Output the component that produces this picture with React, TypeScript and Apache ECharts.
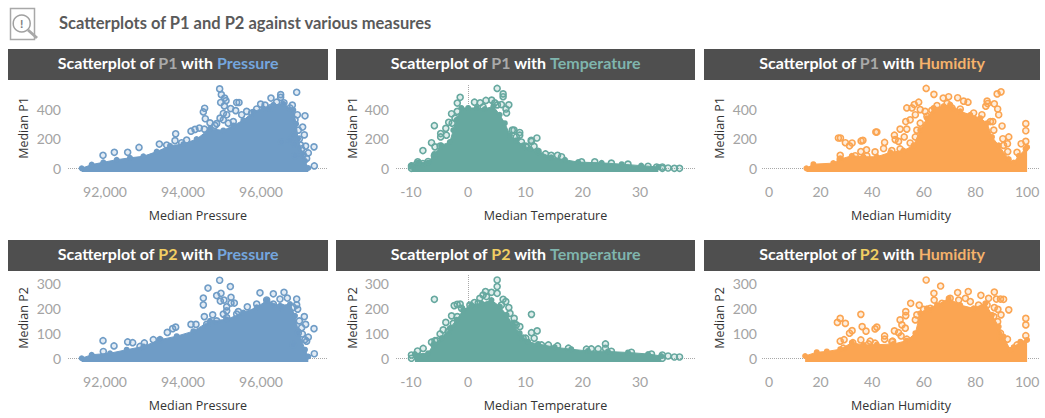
import React, { useEffect, useRef } from "react";
import * as echarts from "echarts";

type Pt = [number, number];

// Ticks
const pressureTicks = [92000, 94000, 96000];
const temperatureTicks = [-10, 0, 10, 20, 30];
const humidityTicks = [0, 20, 40, 60, 80, 100];
const p1Ticks = [0, 200, 400];
const p2Ticks = [0, 100, 200, 300];

// Upper edge of the solid mass of points
const p1PressureEdge: Pt[] = [[91402,0],[91658,25],[91957,41],[92299,58],[92641,71],[92983,81],[93325,113],[93667,152],[94009,164],[94350,198],[94692,268],[95034,256],[95290,290],[95547,325],[95803,383],[96060,406],[96316,429],[96573,436],[96829,394],[96900,300],[96950,200],[97060,100],[97128,50],[97213,2]];
const p1TemperatureEdge: Pt[] = [[-9.9,20],[-8.7,39],[-7,39],[-5.9,97],[-4.7,155],[-3.2,178],[-2.6,258],[-2,328],[-1.2,408],[0,408],[1.5,408],[2.9,401],[4.4,420],[5.5,362],[6.4,305],[7.3,224],[8.4,189],[9.6,155],[10.8,131],[12.2,115],[14.5,74],[16.9,58],[19.2,42],[23.3,37],[26.8,28],[30.2,18],[33.2,9]];
const p1HumidityEdge: Pt[] = [[14.5,0],[17.2,28],[24.9,35],[27.6,62],[32.1,85],[36.6,78],[41.8,78],[47,108],[52.1,120],[56,155],[58.6,258],[61.2,339],[63.8,408],[67.7,420],[70.2,431],[74.1,385],[78,362],[81.9,339],[84.5,305],[86.4,212],[89,155],[92.9,62],[94.8,39],[96.8,85],[99.4,131],[100,143]];
const p2PressureEdge: Pt[] = [[91402,0],[91658,14],[92128,20],[92555,34],[92983,47],[93410,74],[93838,88],[94265,108],[94692,149],[95120,155],[95547,182],[95889,203],[96146,230],[96487,209],[96744,216],[96872,169],[96957,108],[97128,34],[97213,7]];
const p2TemperatureEdge: Pt[] = [[-9.3,17],[-7,20],[-6.1,53],[-4.65,80],[-3.2,120],[-2,153],[-0.87,193],[0.58,212],[2.33,219],[4.07,232],[5.53,206],[6.7,173],[7.85,133],[9,100],[10.47,66],[12.2,57],[15.1,44],[18,36],[20.9,29],[24.4,27],[27.9,23],[31.4,17],[33.7,9]];
const p2HumidityEdge: Pt[] = [[14,9],[18.5,24],[22.4,27],[27.6,36],[32.1,62],[36.6,53],[41.8,54],[48.3,57],[53.4,70],[56.7,100],[58.6,179],[61.2,199],[65.1,212],[69.6,239],[74.1,212],[79.3,199],[83.8,219],[86.4,173],[89,126],[90.9,86],[93.5,33],[94.8,44],[97.4,66],[100,73]];

// Separately visible points
const p1PressurePoints: Pt[] = [[94940,537],[94983,498],[95068,475],[95103,457],[94966,445],[95060,422],[95376,445],[95436,445],[94555,406],[94521,381],[94572,335],[95222,404],[95350,390],[95034,371],[95632,385],[95991,434],[96103,427],[96256,475],[96504,498],[96504,480],[96915,514],[96803,427],[97128,355],[97068,279],[97111,226],[96983,198],[97017,157],[97145,150],[97359,145],[97213,104],[97085,90],[97170,67],[97367,16],[96863,164],[93812,233],[93795,187],[92872,141],[91949,88],[92239,108],[92581,108],[93393,164],[93581,157],[94205,251],[94308,263],[94419,272],[94547,265],[93966,173],[94094,191],[94692,307],[94863,302],[94820,290],[94950,339],[95120,362],[95034,328],[95162,305],[95290,316],[95504,362],[95760,374],[95889,401],[96230,408],[96401,447],[96590,443],[96743,408],[96932,362],[96872,328],[96957,258],[96829,224],[96743,189],[96530,178],[97043,131],[96872,85]];
const p1TemperaturePoints: Pt[] = [[5.06,540],[6.1,503],[6.1,484],[-1.4,480],[-1.9,441],[-5.9,288],[-7.9,120],[-4.8,235],[-4.8,212],[-6.4,173],[-3.9,270],[-3.4,311],[-2.9,369],[-1.9,385],[1.1,447],[2.1,443],[3.1,459],[4.1,461],[7.1,429],[6.6,401],[5.1,429],[8,258],[9,242],[9,224],[12,205],[11.05,182],[11.5,148],[10.06,150],[-5.8,145],[-4.9,150],[-9.9,16],[-9.9,0],[-8.8,44],[-7.9,32],[-5.9,85],[13.5,97],[14.5,88],[15.6,88],[34.9,2],[36,0],[36.9,0],[33.9,9],[33.9,0],[-2.3,339],[-2.8,305],[-3.8,224],[4.65,443],[2.6,415],[5.8,431],[6.7,374],[7.7,258],[8.4,212],[9.3,178],[10.2,143],[11,189],[12.2,115],[16.3,78],[19.8,44],[22.1,44],[25,35],[27.9,28],[31.4,14],[32.9,9],[-9,28],[-7,46]];
const p1HumidityPoints: Pt[] = [[60.9,540],[63.9,500],[67.5,475],[69.6,484],[73.1,477],[75.4,454],[77.1,447],[88.4,503],[89.9,517],[87.3,436],[84.5,454],[58,447],[56.3,431],[53.4,408],[55.4,408],[58.6,397],[60.5,385],[88.6,401],[89,362],[86.7,316],[90.3,286],[92.9,212],[92.4,166],[97.7,166],[99.5,302],[99.5,254],[99.5,182],[26.9,205],[27.7,205],[29.6,173],[31.2,152],[32.2,171],[35.7,185],[36.4,189],[41.4,245],[41.8,245],[27.6,88],[35.6,113],[37.8,125],[41.1,111],[44.8,175],[44.4,134],[48.6,224],[48.9,194],[50.8,265],[53.4,265],[50.2,182],[52.4,212],[53,316],[54.7,328],[56.7,362],[54.7,171],[47.6,120],[84,420],[90.9,155],[92.5,113],[90.6,200],[61.2,351],[63.1,392],[65.1,424],[69,438],[70.9,408],[74.1,401],[79.3,374],[82.5,362],[85.8,316],[87.1,258],[84.7,438],[57.3,258],[58.6,305],[56.7,212],[27.6,62],[33.4,85],[37.9,85],[50.8,131],[96.1,108]];
const p2PressurePoints: Pt[] = [[94940,311],[94641,280],[95214,286],[94974,259],[94863,250],[94521,240],[94521,213],[95231,243],[94957,228],[95051,232],[95231,220],[95316,220],[95120,205],[95120,189],[95974,261],[96316,257],[96590,263],[96487,236],[96675,240],[96915,236],[96915,213],[96940,196],[97111,166],[97145,135],[97359,118],[97060,97],[97213,84],[97170,68],[97367,18],[91949,70],[92231,49],[92581,65],[92709,62],[93009,61],[93598,103],[93812,124],[93735,118],[94205,135],[94333,135],[94547,166],[94761,173],[95034,176],[95649,205],[95419,186],[94607,135],[94863,149],[95120,162],[95376,176],[95889,216],[96146,232],[96316,216],[96530,203],[96829,203],[96983,149],[97043,122],[96957,101],[97128,74],[96829,54],[93410,74],[93239,74],[92897,47],[91957,27]];
const p2TemperaturePoints: Pt[] = [[5.06,312],[5.06,286],[5.06,259],[-5.9,235],[4.07,263],[3.03,266],[2.6,252],[2.04,239],[-2.44,210],[-1.92,215],[-1.4,216],[1.1,222],[6.1,235],[6.57,226],[7.1,202],[11.05,175],[-2.9,169],[-1.9,166],[-3.9,143],[-4.9,97],[-4.36,113],[-6.4,64],[-5.8,70],[-7.85,39],[-8.84,29],[-9.9,13],[-9.9,0],[8.03,159],[8.03,139],[9.02,126],[12.04,109],[11.05,102],[11.52,80],[10.06,80],[23.97,57],[23.97,39],[15.6,49],[20.65,36],[21.5,37],[22.7,37],[34.9,9],[36,5],[36.9,5],[33.9,13],[33.9,0],[-1.16,199],[0.3,212],[1.75,219],[3.2,246],[5.8,212],[7.3,179],[8.4,133],[9.6,80],[12.8,53],[14,53],[17.5,40],[25,28],[28.5,24],[32,17],[-5.9,53],[-5.5,70],[-3.5,106],[-2.6,139]];
const p2HumidityPoints: Pt[] = [[60.9,312],[66.5,288],[63.9,259],[73.1,262],[77.2,266],[82.1,251],[87.3,264],[85.1,239],[88.1,236],[89.7,236],[90.9,235],[87.3,202],[88.7,195],[92.9,193],[89.9,173],[99.5,159],[99.5,133],[99.5,90],[92.4,76],[89.7,80],[27.6,159],[26.5,143],[29.6,139],[35.6,175],[31.2,100],[32.2,110],[36.1,126],[37.6,108],[41.1,117],[41.8,124],[27.6,68],[29.1,74],[35.6,73],[39.2,68],[44.8,89],[44.8,76],[47.9,68],[48.6,109],[50.2,102],[51.2,89],[50.8,153],[51.5,133],[52.8,120],[53,186],[53,170],[54.9,219],[58.2,212],[64,232],[57.3,173],[56.7,153],[59.9,195],[62.5,199],[67,219],[70.2,239],[73.5,232],[76.1,239],[78,226],[81.2,212],[84.5,212],[87.1,166],[88.6,146],[89.7,100],[96.1,53],[28.8,40],[32.5,62],[38.6,57],[41.1,60],[47.6,66],[53.4,76]];

const measures = ["Pressure", "Temperature", "Humidity"];
const pollutants = ["P1", "P2"];

const BLUE = "#6f9cc6";
const TEAL = "#66a89f";
const ORANGE = "#fba552";
const TICK = "Lato, sans-serif";
const AXIS = "'Open Sans', sans-serif";
const TITLE = "Lato, sans-serif";

const columns = [
  { left: 68, right: 328, head: 8, headRight: 328, min: 91051, max: 97718, ticks: pressureTicks, color: BLUE, word: "#74a6de", nameGap: 38, labelMargin: 7, zeroX: false },
  { left: 396, right: 695, head: 336, headRight: 695, min: -12.6, max: 39.6, ticks: temperatureTicks, color: TEAL, word: "#7fb5ad", nameGap: 37, labelMargin: 7, zeroX: true },
  { left: 762, right: 1040, head: 704, headRight: 1040, min: -2.7, max: 105, ticks: humidityTicks, color: ORANGE, word: "#f5b26b", nameGap: 36, labelMargin: 5, zeroX: false },
];
const rows = [
  { top: 84, bottom: 172, headTop: 49, min: -25, max: 570, ticks: p1Ticks, code: "#a9a9a9" },
  { top: 274, bottom: 362, headTop: 240, min: -15, max: 336, ticks: p2Ticks, code: "#f1ce63" },
];
const edges = [[p1PressureEdge, p1TemperatureEdge, p1HumidityEdge], [p2PressureEdge, p2TemperatureEdge, p2HumidityEdge]];
const points = [[p1PressurePoints, p1TemperaturePoints, p1HumidityPoints], [p2PressurePoints, p2TemperaturePoints, p2HumidityPoints]];

const ringFill = (hex: string) => hex + "33";

function buildOption() {
  const grid: any[] = [], xAxis: any[] = [], yAxis: any[] = [], series: any[] = [], title: any[] = [], graphic: any[] = [];
  title.push({ text: "Scatterplots of P1 and P2 against various measures", left: 59, top: 14, padding: 0, textStyle: { fontFamily: TITLE, fontWeight: 700, fontSize: 16.5, color: "#5a5a5a" } });
  graphic.push(
    { type: "rect", shape: { x: 10.5, y: 8.5, width: 24, height: 31 }, style: { fill: "none", stroke: "#a8a8a8", lineWidth: 1.5 } },
    { type: "circle", shape: { cx: 21.7, cy: 23.5, r: 8.5 }, style: { fill: "#fff", stroke: "#a0a0a0", lineWidth: 1.5 } },
    { type: "line", shape: { x1: 28, y1: 30, x2: 37, y2: 38 }, style: { stroke: "#a8a8a8", lineWidth: 3 } },
    { type: "text", style: { text: "!", x: 21.7, y: 23.5, align: "center", verticalAlign: "middle", fill: "#808080", font: "700 12px Lato" } },
  );
  rows.forEach((row, r) => {
    columns.forEach((col, c) => {
      const i = grid.length;
      grid.push({ left: col.left, top: row.top, width: col.right - col.left, height: row.bottom - row.top });
      xAxis.push({
        gridIndex: i, type: "value", min: col.min, max: col.max, name: "Median " + measures[c], nameLocation: "middle", nameGap: 37,
        nameTextStyle: { fontFamily: AXIS, fontSize: 12.5, fontWeight: 400, color: "#333" },
        axisLine: { show: false }, axisTick: { show: false }, splitLine: { show: false },
        axisLabel: { customValues: col.ticks, margin: 12, fontFamily: TICK, fontSize: 14, color: "#a3a3a3", formatter: (v: number) => (c === 0 ? v.toLocaleString("en-US") : String(v)) },
      });
      yAxis.push({
        gridIndex: i, type: "value", min: row.min, max: row.max, name: "Median " + pollutants[r], nameLocation: "middle", nameGap: col.nameGap,
        nameTextStyle: { fontFamily: AXIS, fontSize: 12.5, fontWeight: 400, color: "#333" },
        axisLine: { show: false }, axisTick: { show: false }, splitLine: { show: false },
        axisLabel: { customValues: row.ticks, margin: col.labelMargin, fontFamily: TICK, fontSize: 14, color: "#a3a3a3" },
      });
      const lines: any[] = [{ yAxis: 0 }];
      if (col.zeroX) lines.push({ xAxis: 0 });
      series.push({
        type: "scatter", xAxisIndex: i, yAxisIndex: i, z: 1, data: [], silent: true,
        markLine: { z: 1, silent: true, symbol: "none", label: { show: false }, lineStyle: { color: "#a8a8a8", type: "dotted", width: 1 }, data: lines },
      });
      series.push({
        type: "line", xAxisIndex: i, yAxisIndex: i, z: 2, data: edges[r][c], showSymbol: false, symbol: "none", silent: true,
        color: col.color, itemStyle: { color: col.color }, lineStyle: { color: col.color, width: 1, opacity: 1 }, areaStyle: { color: col.color, opacity: 1, origin: "start" },
      });
      series.push({
        type: "scatter", xAxisIndex: i, yAxisIndex: i, z: 3, data: edges[r][c], symbolSize: 6, silent: true,
        itemStyle: { color: col.color, opacity: 1 },
      });
      series.push({
        type: "scatter", xAxisIndex: i, yAxisIndex: i, z: 4, data: points[r][c], symbolSize: 6, silent: true,
        itemStyle: { color: ringFill(col.color), borderColor: col.color, borderWidth: 1.6, opacity: 1 },
      });
      graphic.push({ type: "rect", z: 0, shape: { x: col.head, y: row.headTop, width: col.headRight - col.head, height: 31 }, style: { fill: "#4f4f4f" } });
      title.push({
        text: `{w|Scatterplot of }{p|${pollutants[r]}}{w| with }{m|${measures[c]}}`,
        left: (col.head + col.headRight) / 2, top: row.headTop + 5, padding: 0, textAlign: "center",
        textStyle: {
          rich: {
            w: { fontFamily: TITLE, fontWeight: 700, fontSize: 16, color: "#ffffff" },
            p: { fontFamily: TITLE, fontWeight: 700, fontSize: 16, color: row.code },
            m: { fontFamily: TITLE, fontWeight: 700, fontSize: 16, color: col.word },
          },
        },
      });
    });
  });
  return { animation: false, backgroundColor: "#ffffff", title, grid, xAxis, yAxis, series, graphic, tooltip: { show: false } };
}

export default function App() {
  const ref = useRef<HTMLDivElement>(null);
  useEffect(() => {
    document.body.style.margin = "0";
    const chart = echarts.init(ref.current!, undefined, { renderer: "svg" });
    chart.setOption(buildOption() as any);
    return () => chart.dispose();
  }, []);
  return <div ref={ref} style={{ width: 1045, height: 418 }} />;
}
